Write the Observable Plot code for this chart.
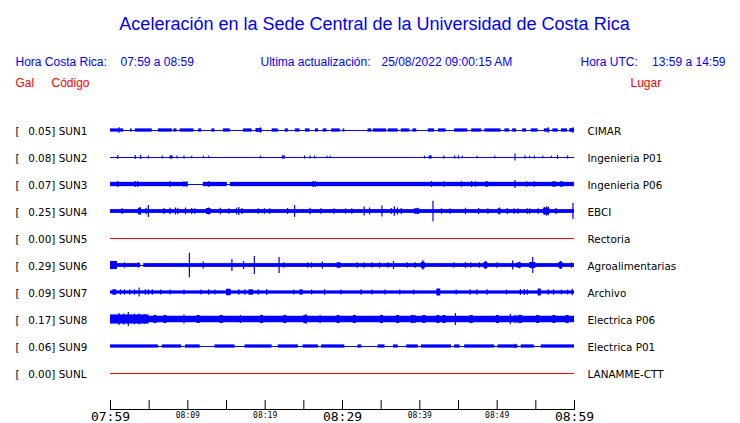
<!DOCTYPE html>
<html>
<head>
<meta charset="utf-8">
<script src="https://cdn.jsdelivr.net/npm/d3@7"></script>
<script src="https://cdn.jsdelivr.net/npm/@observablehq/plot@0.6"></script>
<style>
  html, body { margin: 0; padding: 0; background: #fff; }
  #chart svg { display: block; }
</style>
</head>
<body>
<div id="chart"></div>
<script>
// ---- Texts ----
const titleText = "Aceleración en la Sede Central de la Universidad de Costa Rica";
const headerLabels = ["Hora Costa Rica:", "Ultima actualización:", "Hora UTC:"];
const headerValues = ["07:59 a 08:59", "25/08/2022 09:00:15 AM", "13:59 a 14:59"];
const columnHeads = ["Gal", "Código", "Lugar"];

// ---- Stations ----
const stations = ["SUN1", "SUN2", "SUN3", "SUN4", "SUN5", "SUN6", "SUN7", "SUN8", "SUN9", "SUNL"];
const peakGal = [0.05, 0.08, 0.07, 0.25, 0.00, 0.29, 0.09, 0.17, 0.06, 0.00];
const places = ["CIMAR", "Ingenieria P01", "Ingenieria P06", "EBCI", "Rectoria",
  "Agroalimentarias", "Archivo", "Electrica P06", "Electrica P01", "LANAMME-CTT"];

// ---- Time axis (minutes after 07:59) ----
const tickMinutes = [0, 5, 10, 15, 20, 25, 30, 35, 40, 45, 50, 55, 60];
const majorTickMinutes = [0, 30, 60];
const majorTickLabels = ["07:59", "08:29", "08:59"];
const minorTickMinutes = [10, 20, 40, 50];
const minorTickLabels = ["08:09", "08:19", "08:39", "08:49"];

// ---- Traces: noisy stretches [start min, end min, half amplitude] and spikes [min, half amplitude]
// (half amplitude as a fraction of the spacing between traces)
const sun1Bands = [[0,1.7,.06],[2.6,2.8,.06],[3.2,5.4,.06],[6.2,8.0,.06],[8.2,8.6,.06],[9.0,10.8,.06],[11.4,11.8,.06],[13.1,13.5,.06],[14.6,15.5,.06],[17.2,18.3,.06],[18.8,19.6,.07],[20.9,21.7,.06],[22.6,23.0,.06],[23.9,24.5,.06],[25.2,25.8,.06],[26.5,26.9,.06],[27.5,28.0,.06],[28.6,29.7,.06],[30.1,30.3,.06],[33.3,33.8,.06],[34.0,35.7,.06],[35.9,37.2,.06],[37.6,38.7,.06],[39.1,39.6,.06],[41.1,41.9,.06],[42.4,43.4,.06],[44.5,46.2,.06],[46.7,48.0,.06],[48.4,50.5,.06],[51.0,51.6,.06],[52.0,52.5,.06],[53.3,53.8,.06],[54.4,55.3,.06],[56.1,56.8,.06],[57.2,57.9,.06],[58.3,59.1,.06],[59.4,60,.07]];
const sun1Spikes = [[1.1,.1],[19.4,.1],[56.6,.1],[59.8,.1]];
const sun2Bands = [[7.7,8.1,.06],[22.2,22.6,.06],[41.2,41.6,.06]];
const sun2Spikes = [[0.95,.07],[3.2,.07],[3.9,.07],[4.9,.06],[6.7,.06],[8.6,.06],[9.5,.06],[10.5,.05],[12.0,.05],[12.7,.05],[19.4,.05],[25.1,.06],[25.8,.06],[26.4,.06],[28.0,.05],[28.4,.05],[40.6,.05],[43.1,.06],[44.5,.06],[45.0,.06],[45.5,.05],[47.4,.05],[49.7,.05],[52.3,.13],[53.6,.06],[54.2,.05],[54.8,.06],[55.9,.05],[57.0,.05],[57.8,.07],[59.1,.06]];
const sun3Bands = [[0,10.0,.08],[12.0,15.1,.08],[15.5,60,.08],[48.5,48.9,.1],[57.2,57.6,.1],[58.2,58.6,.1]];
const sun3Spikes = [[0.95,.11],[3.2,.11],[3.5,.11],[7.7,.1],[9.5,.1],[9.9,.1],[12.7,.11],[26.2,.11],[26.5,.11],[41.5,.11],[43.1,.1],[45.4,.1],[46.7,.11],[47.2,.1],[52.3,.15],[53.8,.1],[54.8,.1]];
const sun4Bands = [[0,60,.07],[3.6,4.0,.12],[12.4,13.0,.11],[39.3,40.0,.1],[50.1,50.5,.1],[56.0,56.8,.12]];
const sun4Spikes = [[1.5,.11],[3.8,.15],[4.6,.12],[4.9,.22],[6.9,.11],[7.7,.12],[8.4,.13],[8.7,.12],[9.7,.13],[10.5,.11],[10.9,.1],[12.7,.13],[14.2,.12],[15.3,.1],[16.3,.12],[16.6,.15],[17.0,.11],[19.1,.1],[19.9,.1],[20.6,.1],[22.9,.11],[23.8,.22],[25.8,.12],[27.2,.1],[28.9,.1],[30.4,.1],[31.2,.1],[32.8,.17],[33.5,.13],[35.1,.2],[36.3,.11],[36.7,.18],[37.1,.13],[37.6,.11],[39.7,.12],[41.7,.38],[42.8,.1],[43.9,.1],[45.9,.12],[47.6,.11],[48.8,.1],[50.3,.13],[51.3,.11],[52.2,.1],[52.7,.1],[53.9,.1],[54.2,.1],[55.3,.1],[56.1,.15],[56.4,.18],[56.6,.16],[57.6,.11],[59.8,.3]];
const sun6Bands = [[0,3.9,.07],[4.3,60,.07],[0,0.9,.15],[29.3,29.8,.1],[40.2,40.7,.12],[48.3,48.8,.12],[52.6,53.1,.1],[54.2,55.0,.11],[58.0,58.5,.12]];
const sun6Spikes = [[1.8,.1],[3.6,.1],[10.2,.45],[12.0,.13],[15.7,.22],[17.2,.15],[18.6,.33],[21.8,.3],[22.4,.1],[25.5,.1],[26.0,.1],[27.4,.13],[29.5,.11],[31.9,.1],[32.8,.1],[33.8,.1],[34.8,.1],[35.9,.1],[36.6,.15],[38.4,.1],[39.4,.1],[40.4,.18],[44.4,.1],[45.9,.11],[46.6,.1],[47.7,.1],[48.5,.15],[50.0,.1],[52.0,.17],[52.9,.12],[54.5,.12],[54.6,.3],[58.2,.15],[59.6,.1]];
const sun7Bands = [[0,60,.06],[0.3,0.8,.1],[15.0,15.6,.12],[17.9,18.5,.1],[24.5,24.9,.1],[42.2,42.7,.13],[55.3,55.7,.13]];
const sun7Spikes = [[1.3,.1],[1.8,.1],[2.5,.1],[3.1,.1],[3.7,.17],[4.5,.1],[4.9,.1],[5.4,.1],[6.5,.09],[7.7,.09],[9.5,.09],[11.7,.09],[12.7,.1],[13.5,.09],[16.6,.1],[17.4,.1],[19.1,.1],[20.2,.11],[23.7,.09],[26.0,.09],[27.7,.1],[29.8,.09],[32.4,.1],[33.8,.09],[35.5,.09],[37.4,.09],[39.2,.09],[44.7,.09],[46.5,.1],[47.4,.1],[48.7,.1],[51.2,.09],[53.0,.11],[53.5,.11],[53.9,.1],[56.6,.1],[57.3,.1],[58.3,.09],[59.1,.09],[59.7,.12]];
const sun8Bands = [[0,60,.12],[0,5.0,.17],[5.6,6.0,.15],[6.9,7.3,.15],[11.2,11.6,.15],[14.2,14.6,.15],[19.4,19.8,.15],[22.4,22.8,.15],[25.0,25.4,.15],[29.3,29.7,.15],[31.4,31.8,.15],[34.9,35.3,.15],[37.0,37.4,.15],[38.9,39.3,.15],[40.4,40.8,.15],[42.2,42.6,.15],[43.0,43.4,.15],[46.5,46.9,.15],[49.9,50.3,.15],[52.9,53.3,.15],[55.1,55.5,.15],[57.2,57.6,.15],[58.9,59.3,.15]];
const sun8Spikes = [[1.1,.22],[1.7,.2],[2.3,.26],[3.1,.2],[3.7,.2],[4.4,.18],[9.5,.17],[14.2,.15],[16.8,.15],[25.3,.18],[27.1,.15],[39.4,.15],[44.6,.22],[51.7,.19],[52.3,.16],[52.7,.16]];
const sun9Bands = [[0,6.2,.06],[6.7,9.2,.06],[9.7,11.6,.06],[13.5,16.1,.06],[17.4,20.9,.06],[21.7,24.3,.06],[24.9,26.9,.06],[27.3,30.3,.06],[32.0,32.5,.06],[34.6,35.5,.06],[36.6,37.2,.06],[38.3,39.8,.06],[40.2,44.1,.06],[44.5,45.2,.06],[45.8,49.7,.06],[50.1,52.7,.06],[53.1,54.8,.06],[55.7,60,.06]];
const sun9Spikes = [[52.3,.08]];

const traceBands = [sun1Bands, sun2Bands, sun3Bands, sun4Bands, [], sun6Bands, sun7Bands, sun8Bands, sun9Bands, []];
const traceSpikes = [sun1Spikes, sun2Spikes, sun3Spikes, sun4Spikes, [], sun6Spikes, sun7Spikes, sun8Spikes, sun9Spikes, []];

// ---- Derived tables ----
const rows = stations.map((s, i) => ({row: i, code: s, gal: peakGal[i], place: places[i], t0: 0, t1: 60}));
const bands = traceBands.flatMap((list, i) => list.map(([t0, t1, amp]) => ({row: i, t0, t1, amp})));
const spikes = traceSpikes.flatMap((list, i) => list.map(([t, amp]) => ({row: i, t, amp})));
const majorTicks = majorTickMinutes.map((t, i) => ({t, label: majorTickLabels[i]}));
const minorTicks = minorTickMinutes.map((t, i) => ({t, label: minorTickLabels[i]}));

const BLUE = "#0000ff", RED = "#ff0000";
const SANS = "Liberation Sans, Arial, sans-serif";
const DV = "DejaVu Sans, sans-serif";
const MONO = "DejaVu Sans Mono, monospace";

const chart = Plot.plot({
  width: 740,
  height: 423,
  marginTop: 0,
  marginLeft: 110,
  marginRight: 166,
  marginBottom: 14,
  x: {domain: [0, 60], axis: null},
  y: {domain: [0, 9], range: [130, 373], axis: null},
  style: {background: "#fff", fontFamily: DV, overflow: "visible"},
  marks: [
    // header
    Plot.text([titleText], {frameAnchor: "top-left", dx: 264, dy: 29, lineAnchor: "bottom", textAnchor: "middle", fontSize: 18, fontFamily: SANS, fill: BLUE}),
    Plot.text([headerLabels[0]], {frameAnchor: "top-left", dx: -95, dy: 65, lineAnchor: "bottom", textAnchor: "start", fontSize: 12, fontFamily: SANS, fill: BLUE}),
    Plot.text([headerValues[0]], {frameAnchor: "top-left", dx: 10, dy: 65, lineAnchor: "bottom", textAnchor: "start", fontSize: 12, fontFamily: SANS, fill: BLUE}),
    Plot.text([headerLabels[1]], {frameAnchor: "top-left", dx: 150, dy: 65, lineAnchor: "bottom", textAnchor: "start", fontSize: 12, fontFamily: SANS, fill: BLUE}),
    Plot.text([headerValues[1]], {frameAnchor: "top-left", dx: 271, dy: 65, lineAnchor: "bottom", textAnchor: "start", fontSize: 12, fontFamily: SANS, fill: BLUE}),
    Plot.text([headerLabels[2]], {frameAnchor: "top-left", dx: 470, dy: 65, lineAnchor: "bottom", textAnchor: "start", fontSize: 12, fontFamily: SANS, fill: BLUE}),
    Plot.text([headerValues[2]], {frameAnchor: "top-left", dx: 615, dy: 65, lineAnchor: "bottom", textAnchor: "end", fontSize: 12, fontFamily: SANS, fill: BLUE}),
    Plot.text([columnHeads[0]], {frameAnchor: "top-left", dx: -95, dy: 86, lineAnchor: "bottom", textAnchor: "start", fontSize: 12, fontFamily: SANS, fill: RED}),
    Plot.text([columnHeads[1]], {frameAnchor: "top-left", dx: -59, dy: 86, lineAnchor: "bottom", textAnchor: "start", fontSize: 12, fontFamily: SANS, fill: RED}),
    Plot.text([columnHeads[2]], {frameAnchor: "top-left", dx: 520, dy: 86, lineAnchor: "bottom", textAnchor: "start", fontSize: 12, fontFamily: SANS, fill: RED}),

    // traces
    Plot.ruleY(rows.filter(d => d.gal > 0), {y: "row", x1: "t0", x2: "t1", stroke: BLUE, strokeWidth: 1}),
    Plot.ruleY(rows.filter(d => d.gal === 0), {y: "row", x1: "t0", x2: "t1", stroke: RED, strokeWidth: 1}),
    Plot.rect(bands, {x1: "t0", x2: "t1", y1: d => d.row - d.amp, y2: d => d.row + d.amp, fill: BLUE}),
    Plot.ruleX(spikes, {x: "t", y1: d => d.row - d.amp, y2: d => d.row + d.amp, stroke: BLUE, strokeWidth: 1.2}),

    // station labels
    Plot.text(rows, {y: "row", text: () => "[", frameAnchor: "left", dx: -95, dy: 1, textAnchor: "start", fontSize: 10.4, fill: "#000"}),
    Plot.text(rows, {y: "row", text: d => `${d.gal.toFixed(2)}] ${d.code}`, frameAnchor: "left", dx: -82.3, dy: 1, textAnchor: "start", fontSize: 10.4, fill: "#000"}),
    Plot.text(rows, {y: "row", text: "place", frameAnchor: "right", dx: 13, dy: 1, textAnchor: "start", fontSize: 10.4, fill: "#000"}),

    // time axis
    Plot.frame({anchor: "bottom", stroke: "#000"}),
    Plot.ruleX(tickMinutes, {x: d => d, insetTop: 400, stroke: "#000"}),
    Plot.text(majorTicks, {x: "t", text: "label", frameAnchor: "bottom", dy: 11, lineAnchor: "bottom", fontSize: 13, fontFamily: MONO, fill: "#000"}),
    Plot.text(minorTicks, {x: "t", text: "label", frameAnchor: "bottom", dy: 8, lineAnchor: "bottom", fontSize: 8, fontFamily: MONO, fill: "#000"})
  ]
});
document.getElementById("chart").appendChild(chart);
</script>
</body>
</html>
